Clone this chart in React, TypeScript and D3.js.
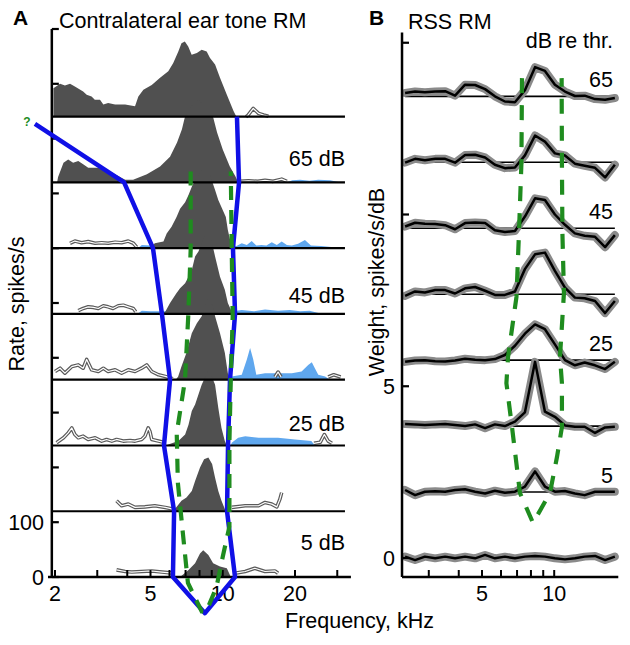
import React from 'react';
import * as d3 from 'd3';

const FONT = "'Liberation Sans', Arial, Helvetica, sans-serif";

// ---------- Panel A data (frequency kHz, rate spikes/s above row baseline) ----------
const A_ROW_OFFSETS = [840, 720, 600, 480, 360, 240, 120, 0];

const A_DARK: number[][][] = [
  [[1.97,0],[1.97,52],[2.10,60],[2.20,57],[2.31,60],[2.42,55],[2.62,46],[2.71,40],[2.84,37],[2.93,31],[3.08,31],[3.18,22],[3.33,25],[3.56,22],[3.92,22],[4.31,19],[4.45,37],[4.67,49],[5.06,58],[5.48,71],[5.93,83],[6.22,98],[6.53,119],[6.73,134],[6.95,137],[7.18,128],[7.42,113],[7.80,116],[8.17,122],[8.57,119],[8.85,107],[9.29,95],[9.74,71],[10.4,40],[11.1,10],[11.4,0]],
  [[2.04,0],[2.06,10],[2.17,36],[2.27,42],[2.38,36],[2.50,39],[2.62,33],[2.75,27],[3.03,27],[3.45,18],[3.92,5],[4.23,5],[4.83,15],[5.48,29],[6.03,47],[6.45,73],[6.76,97],[6.95,119],[7.4,140],[7.92,150],[8.5,140],[9.12,119],[9.47,91],[10.0,60],[10.7,29],[11.3,11],[11.6,0]],
  [[4.97,0],[5.21,9],[5.66,12],[5.84,27],[6.12,39],[6.42,57],[6.64,72],[6.97,84],[7.20,97],[7.43,112],[7.67,124],[8.28,146],[8.85,133],[9.29,106],[9.58,88],[10.3,57],[10.5,33],[10.9,2],[11.0,0]],
  [[5.48,0],[5.76,4],[6.03,20],[6.41,38],[6.64,47],[6.97,56],[7.20,68],[7.43,80],[7.67,105],[7.92,114],[8.43,144],[8.96,135],[9.29,105],[9.74,68],[10.2,44],[10.5,20],[10.9,4],[11.1,0]],
  [[6.37,0],[6.52,6],[6.73,24],[7.06,49],[7.43,85],[7.80,103],[8.17,116],[8.60,146],[9.04,137],[9.29,116],[9.74,85],[10.2,49],[10.5,12],[10.7,0]],
  [[5.80,0],[5.93,2],[6.53,8],[6.97,20],[7.20,38],[7.43,63],[7.67,75],[7.92,93],[8.17,111],[8.66,135],[9.04,124],[9.29,111],[9.58,69],[9.88,32],[10.2,8],[10.4,0]],
  [[6.20,0],[6.32,4],[6.73,19],[7.06,25],[7.43,37],[7.67,55],[8.04,80],[8.36,95],[8.71,98],[9.03,86],[9.29,61],[9.58,37],[9.88,19],[10.2,4],[10.3,0]],
  [[6.64,0],[7.20,13],[7.67,25],[8.04,43],[8.29,49],[8.71,40],[9.12,25],[9.74,19],[10.4,16],[10.7,4],[10.8,0]],
];

const A_BLUE: number[][][] = [
  [],
  [[18.5,0],[19.5,4],[21,5],[23,3],[25,5],[28,4],[31,0]],
  [[4.43,0],[4.6,6],[5.0,5],[8.0,5],[10.9,5],[11.4,4],[12.0,9],[12.6,6],[13.2,13],[13.8,5],[14.5,6],[15.2,5],[16.0,11],[16.8,6],[17.6,12],[18.5,6],[19.4,5],[20.6,8],[22.0,15],[23.3,5],[25.7,4],[28.3,2],[29,0]],
  [[4.4,0],[4.6,6],[5.0,5],[8,5],[11.0,5],[12.0,7],[13.5,5],[15,8],[17,6],[19,7],[21,5],[23,6],[26,0]],
  [[10.8,0],[10.9,6],[12.0,9],[12.6,37],[13.0,58],[13.4,37],[13.8,9],[15.0,12],[16.5,12],[19.4,12],[21.3,15],[22.7,27],[23.5,32],[24.2,21],[25.0,9],[26.7,6],[28.0,0]],
  [[10.8,0],[10.9,5],[11.6,14],[12.4,17],[14.1,14],[17.0,14],[20.0,11],[23.4,8],[24.2,0]],
  [],
  [],
];

const A_OUTLINES: number[][][][] = [
  [[[12.5,0],[12.7,2],[13.4,15],[14.1,6],[14.8,3],[15.5,1]]],
  [[[11.8,2],[12.8,3],[14,2],[15,4],[16.2,2],[17.6,6],[18.5,2]]],
  [[[2.31,9],[2.42,13],[2.58,10],[2.75,12],[2.94,9],[3.13,10],[3.33,9],[3.56,11],[3.79,10],[4.04,13],[4.24,9],[4.38,2]]],
  [[[2.50,6],[2.62,10],[2.75,13],[2.89,12],[3.03,10],[3.18,15],[3.33,13],[3.49,10],[3.67,15],[3.85,16],[4.04,13],[4.24,10],[4.34,4]]],
  [[[2.0,15],[2.10,21],[2.20,12],[2.35,24],[2.50,27],[2.62,21],[2.71,37],[2.84,18],[3.03,15],[3.18,21],[3.33,15],[3.56,18],[3.79,12],[4.04,18],[4.31,15],[4.59,21],[4.82,27],[5.06,15],[5.40,9],[5.76,6],[6.2,2]],
   [[16.5,5],[17.0,14],[17.5,5]], [[27.5,5],[29,9],[31,5]]],
  [[[2.03,5],[2.17,14],[2.27,23],[2.35,32],[2.42,20],[2.50,14],[2.62,17],[2.75,11],[2.94,14],[3.13,8],[3.28,11],[3.45,8],[3.61,11],[3.85,8],[4.11,9],[4.31,8],[4.59,11],[4.74,17],[4.89,32],[4.97,26],[5.06,11],[5.40,8],[5.76,5]],
   [[24,4],[25.5,6],[26.5,20],[27.5,8],[28.5,4]]],
  [[[3.61,19],[3.79,10],[4.04,13],[4.31,7],[4.74,8],[5.21,10],[5.76,7],[6.2,4]],
   [[10.9,7],[12.4,10],[14.1,10],[15.0,16],[16.0,13],[16.8,8],[17.3,22],[17.6,34]]],
  [[[3.61,13],[3.92,10],[4.18,9],[4.59,10],[5.06,11],[5.58,9],[6.22,7]],
   [[11.25,7],[12.4,10],[13.6,16],[15.0,10],[16.5,11],[17.0,7]]],
];

// Tuning curve (blue) and green dashed V in panel A: [freq, rate]
const A_BLUE_LINE = [[1.65,827],[3.88,720],[5.12,600],[5.58,480],[6.03,360],[5.69,240],[6.27,120],[6.2,0],[8.43,-66],[11.25,0],[10.42,120],[10.52,240],[10.72,360],[11.25,480],[11.03,600],[11.69,720],[11.46,840]];
const A_GREEN_LINE = [[7.35,740],[7.35,597],[7.18,475],[6.96,359],[6.43,263],[6.5,172],[6.82,80],[7.16,-11],[8.17,-63],[8.54,-63],[9.42,-18],[10.0,37],[10.66,92],[10.66,245],[10.8,359],[11.0,475],[10.9,597],[10.8,740]];

const A_ROW_LABELS = [
  { row: 1, text: '65 dB' },
  { row: 3, text: '45 dB' },
  { row: 5, text: '25 dB' },
  { row: 7, text: '5 dB' },
];
const A_X_TICKS = [2, 3, 4, 5, 6, 7, 8, 9, 10, 20, 30];
const A_X_LABELS = [2, 5, 10, 20];
const A_Y_TICKS = [0, 100, 200, 300, 400, 500, 600, 700, 800, 900, 1000];
const A_Y_LABELS = [0, 100];

// ---------- Panel B data ----------
const B_FREQS = [2.39,2.63,2.89,3.19,3.51,3.86,4.25,4.68,5.15,5.66,6.23,6.86,7.55,8.32,9.15,10.07,11.09,12.2,13.4,14.8,16.3,17.9];
const B_ROW_OFFSETS = [13.44, 11.52, 9.6, 7.68, 5.76, 3.84, 1.92, 0];
const B_VALUES = [
  [0.1,0.14,0.12,0.14,0.15,0.02,0.34,0.33,0.21,0,-0.15,-0.17,0.18,0.85,0.74,0.34,0.14,0.01,0.02,-0.08,-0.1,-0.05],
  [-0.01,0.1,0.06,0.1,0.1,-0.01,0.21,0.22,0.14,-0.07,-0.17,-0.15,0.2,0.78,0.6,0.26,0.2,-0.04,-0.1,-0.16,-0.44,-0.07],
  [0.05,0.16,0.13,0.12,0.09,-0.03,0.15,0.17,0.15,-0.06,-0.11,-0.08,0.34,0.87,0.82,0.4,0.1,-0.15,-0.22,-0.25,-0.55,-0.2],
  [-0.05,0.08,0.05,0.12,0.12,0.02,0.17,0.21,0.1,-0.02,-0.02,0.08,0.73,1.16,1.21,0.68,0.19,-0.1,-0.12,-0.2,-0.55,-0.2],
  [-0.05,-0.01,0.0,-0.03,-0.04,-0.01,0.04,0.01,0.0,0.03,0.15,0.42,0.77,1.04,0.9,0.46,0.0,-0.15,-0.07,-0.15,-0.26,-0.05],
  [0.06,0.05,0.03,0.05,0.06,0.03,0.0,0.05,-0.06,0.05,0.0,0.13,0.4,1.87,0.42,0.27,0.02,-0.02,-0.02,-0.2,-0.04,-0.02],
  [0.06,-0.09,0.01,0.02,0.01,0.06,0.08,0.01,-0.04,0.04,-0.02,0.01,0.16,0.6,0.16,0.01,0.03,-0.04,-0.09,0.01,0.01,0.01],
  [0.04,-0.06,0.04,-0.01,0.04,-0.01,0.04,-0.01,0.09,-0.01,0.04,-0.01,0.04,0.06,0.04,-0.01,-0.04,-0.01,0.04,0.06,-0.06,0.04],
];
const B_GREEN_LINE = [[7.34,13.97],[7.30,11.5],[7.13,9.46],[6.96,7.6],[6.42,5.85],[6.32,5.09],[6.67,3.81],[7.20,1.89],[8.16,1.02],[9.60,1.89],[10.27,2.94],[10.77,3.81],[10.77,5.09],[10.57,5.85],[10.87,7.22],[10.98,7.71],[10.82,9.46],[10.77,11.5],[10.74,13.97]];
const B_ROW_LABELS = [
  { row: 0, text: '65' },
  { row: 2, text: '45' },
  { row: 4, text: '25' },
  { row: 6, text: '5' },
];
const B_X_TICKS = [3, 4, 5, 6, 7, 8, 9, 10];
const B_X_LABELS = [5, 10];
const B_Y_TICKS = [0, 5, 10, 15];
const B_Y_LABELS = [0, 5];

// ---------- scales ----------
const xA = d3.scaleLog().domain([2, 20]).range([55, 295]);
const yA = d3.scaleLinear().domain([0, 1000]).range([577, 29]);
const xB = d3.scaleLog().domain([5, 10]).range([482, 554.2]);
const yB = d3.scaleLinear().domain([0, 15]).range([558, 42.75]);

const A_LABEL_DY = [16, 11, 14, 27];
const B_LABEL_DY = 9;

const DARK = '#505050';
const LIGHTBLUE = '#5fa7ee';
const BLUE = '#1010e6';
const GREEN = '#1f8c1f';
const FS = 21.5;

export default function App() {
  const lineA = d3.line<number[]>().x(d => xA(d[0])).y(d => yA(d[1]));
  const areaA = (off: number) =>
    d3.area<number[]>().x(d => xA(d[0])).y0(yA(off)).y1(d => yA(off + d[1]));
  const lineRowA = (off: number) =>
    d3.line<number[]>().x(d => xA(d[0])).y(d => yA(off + d[1]));
  const lineB = d3.line<number[]>().x(d => xB(d[0])).y(d => yB(d[1]));

  const axA_x0 = xA(1.87), axA_x1 = xA(34.2), axA_y = yA(0);
  const axA_left = xA(1.94);
  const baseA0 = xA(1.96), baseA1 = xA(32.3);

  const axB_left = xB(2.32), axB_right = xB(18.5);
  const axB_bottom = 577, axB_top = yB(15.3);

  return (
    <svg width={630} height={645} style={{ position: 'absolute', left: 0, top: 0, background: '#fff' }}
      fontFamily={FONT}>
      <rect width={630} height={645} fill="#fff" />
      {/* ---------------- Panel A ---------------- */}
      {A_BLUE.map((d, i) => d.length ? (
        <path key={'ab' + i} d={areaA(A_ROW_OFFSETS[i])(d) || ''} fill={LIGHTBLUE} />
      ) : null)}
      {A_DARK.map((d, i) => (
        <path key={'ad' + i} d={areaA(A_ROW_OFFSETS[i])(d) || ''} fill={DARK} />
      ))}
      {A_OUTLINES.map((segs, i) => segs.map((s, j) => (
        <g key={'ao' + i + '-' + j}>
          <path d={lineRowA(A_ROW_OFFSETS[i])(s) || ''} fill="none" stroke="#5a5a5a" strokeWidth={3.6} strokeLinejoin="round" />
          <path d={lineRowA(A_ROW_OFFSETS[i])(s) || ''} fill="none" stroke="#fff" strokeWidth={1.2} strokeLinejoin="round" />
        </g>
      )))}
      {A_ROW_OFFSETS.slice(0, 7).map((off, i) => (
        <line key={'abl' + i} x1={baseA0} x2={baseA1} y1={yA(off)} y2={yA(off)} stroke="#000" strokeWidth={2.2} />
      ))}
      {/* axes A */}
      <line x1={axA_left} x2={axA_left} y1={yA(1000)} y2={axA_y} stroke="#000" strokeWidth={2.5} />
      <line x1={axA_x0} x2={axA_x1} y1={axA_y} y2={axA_y} stroke="#000" strokeWidth={2.5} />
      {A_Y_TICKS.map(t => (
        <line key={'ayt' + t} x1={axA_left} x2={axA_left + 7} y1={yA(t)} y2={yA(t)} stroke="#000" strokeWidth={2.2} />
      ))}
      {A_X_TICKS.map(t => (
        <line key={'axt' + t} x1={xA(t)} x2={xA(t)} y1={axA_y} y2={axA_y - 7} stroke="#000" strokeWidth={2} />
      ))}
      {A_Y_LABELS.map(t => (
        <text key={'ayl' + t} x={44} y={yA(t)} dy="0.36em" textAnchor="end" fontSize={FS}>{t}</text>
      ))}
      {A_X_LABELS.map(t => (
        <text key={'axl' + t} x={xA(t)} y={601} textAnchor="middle" fontSize={FS}>{t}</text>
      ))}
      {/* tuning curve + V */}
      <path d={lineA(A_BLUE_LINE) || ''} fill="none" stroke={BLUE} strokeWidth={4.5} strokeLinejoin="round" />
      <path d={lineA(A_GREEN_LINE) || ''} fill="none" stroke={GREEN} strokeWidth={4.2} strokeDasharray="14 10" />
      <text x={27} y={126} textAnchor="middle" fontSize={12} fontWeight="bold" fill={GREEN}>?</text>
      {A_ROW_LABELS.map((l, k) => (
        <text key={'arl' + k} x={345} y={yA(A_ROW_OFFSETS[l.row]) - A_LABEL_DY[k]} textAnchor="end" fontSize={FS}>{l.text}</text>
      ))}
      <text x={13} y={25} fontSize={21} fontWeight="bold">A</text>
      <text x={59} y={28} fontSize={FS}>Contralateral ear tone RM</text>
      <text transform="translate(24,304) rotate(-90)" textAnchor="middle" fontSize={FS}>Rate, spikes/s</text>

      {/* ---------------- Panel B ---------------- */}
      {B_ROW_OFFSETS.map((off, i) => (
        <line key={'bbl' + i} x1={xB(B_FREQS[0])} x2={xB(B_FREQS[B_FREQS.length - 1])} y1={yB(off)} y2={yB(off)} stroke="#000" strokeWidth={1.6} />
      ))}
      {B_VALUES.map((vals, i) => {
        const pts = vals.map((v, k) => [B_FREQS[k], B_ROW_OFFSETS[i] + v]);
        const d = lineB(pts) || '';
        return (
          <g key={'bc' + i}>
            <path d={d} fill="none" stroke="#8a8a8a" strokeWidth={8} strokeLinejoin="round" strokeLinecap="round" />
            <path d={d} fill="none" stroke="#000" strokeWidth={2.5} strokeLinejoin="round" />
          </g>
        );
      })}
      <path d={lineB(B_GREEN_LINE) || ''} fill="none" stroke={GREEN} strokeWidth={4.2} strokeDasharray="15 12" />
      {/* axes B */}
      <line x1={axB_left} x2={axB_left} y1={axB_top} y2={axB_bottom} stroke="#000" strokeWidth={2.5} />
      <line x1={axB_left} x2={axB_right} y1={axB_bottom} y2={axB_bottom} stroke="#000" strokeWidth={2.5} />
      {B_Y_TICKS.map(t => (
        <line key={'byt' + t} x1={axB_left} x2={axB_left + 7} y1={yB(t)} y2={yB(t)} stroke="#000" strokeWidth={2.2} />
      ))}
      {B_X_TICKS.map(t => (
        <line key={'bxt' + t} x1={xB(t)} x2={xB(t)} y1={axB_bottom} y2={axB_bottom - 7} stroke="#000" strokeWidth={2} />
      ))}
      {B_Y_LABELS.map(t => (
        <text key={'byl' + t} x={395} y={yB(t)} dy="0.36em" textAnchor="end" fontSize={FS}>{t}</text>
      ))}
      {B_X_LABELS.map(t => (
        <text key={'bxl' + t} x={xB(t)} y={601} textAnchor="middle" fontSize={FS}>{t}</text>
      ))}
      {B_ROW_LABELS.map((l, k) => (
        <text key={'brl' + k} x={613} y={yB(B_ROW_OFFSETS[l.row]) - B_LABEL_DY} textAnchor="end" fontSize={FS}>{l.text}</text>
      ))}
      <text x={613} y={48} textAnchor="end" fontSize={FS}>dB re thr.</text>
      <text x={369} y={25} fontSize={21} fontWeight="bold">B</text>
      <text x={408} y={29} fontSize={FS}>RSS RM</text>
      <text transform="translate(384,282) rotate(-90)" textAnchor="middle" fontSize={FS}>Weight, spikes/s/dB</text>

      <text x={285} y={628} fontSize={FS}>Frequency, kHz</text>
    </svg>
  );
}
